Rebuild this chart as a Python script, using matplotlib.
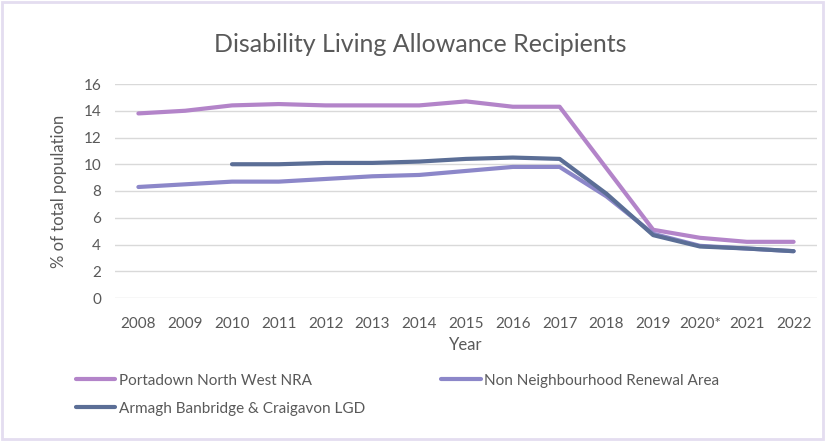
import matplotlib.pyplot as plt
import numpy as np
from matplotlib.patches import Rectangle

years = ["2008", "2009", "2010", "2011", "2012", "2013", "2014", "2015",
         "2016", "2017", "2018", "2019", "2020*", "2021", "2022"]
portadown = [13.8, 14.0, 14.4, 14.5, 14.4, 14.4, 14.4, 14.7, 14.3, 14.3, 9.7, 5.1, 4.5, 4.2, 4.2]
non_nra = [8.3, 8.5, 8.7, 8.7, 8.9, 9.1, 9.2, 9.5, 9.8, 9.8, 7.6, 4.8, 3.9, 3.7, 3.5]
abc_lgd = [np.nan, np.nan, 10.0, 10.0, 10.1, 10.1, 10.2, 10.4, 10.5, 10.4, 7.8, 4.7, 3.85, 3.7, 3.5]

plt.rcParams['font.family'] = ['Lato', 'DejaVu Sans']
grey = "#595959"

fig = plt.figure(figsize=(8.25, 4.41), dpi=100)
ax = fig.add_axes([115/825, 1-298/441, (817-115)/825, (298-84)/441])
fig.patches.append(Rectangle((0.002, 0.004), 0.996, 0.992, transform=fig.transFigure,
                             fill=False, edgecolor="#E4DDF0", lw=2))

x = np.arange(len(years))
l1, = ax.plot(x, portadown, color="#B384C9", lw=3, solid_capstyle="round", label="Portadown North West NRA")
l2, = ax.plot(x, non_nra, color="#8C87C9", lw=3, solid_capstyle="round", label="Non Neighbourhood Renewal Area")
l3, = ax.plot(x, abc_lgd, color="#5B6E96", lw=3, solid_capstyle="round", label="Armagh Banbridge & Craigavon LGD")

ax.set_xlim(-0.5, len(years) - 0.5)
ax.set_ylim(0, 16)
ax.set_yticks(range(0, 17, 2))
ax.set_xticks(x)
ax.set_xticklabels(years)
ax.tick_params(length=0, labelsize=11, colors=grey)
ax.tick_params(axis="y", pad=10)
ax.tick_params(axis="x", pad=14)
ax.grid(axis="y", color="#D9D9D9", lw=1)
ax.set_axisbelow(True)
for s in ax.spines.values():
    s.set_visible(False)

ax.set_ylabel("% of total population", fontsize=12, color=grey, labelpad=12)
ax.set_xlabel("Year", fontsize=12, color=grey, labelpad=4)
fig.text(420/825, 1-45/441, "Disability Living Allowance Recipients", fontsize=18,
         color=grey, ha="center", va="center")

fig.legend(handles=[l1, l3, l2], loc="upper left", bbox_to_anchor=(62/825, 1-360/441),
           ncol=2, frameon=False, fontsize=11, labelcolor=grey, handlelength=2.6,
           handletextpad=0.2, columnspacing=5.0, labelspacing=0.9)

fig.savefig("out.png", dpi=100)
